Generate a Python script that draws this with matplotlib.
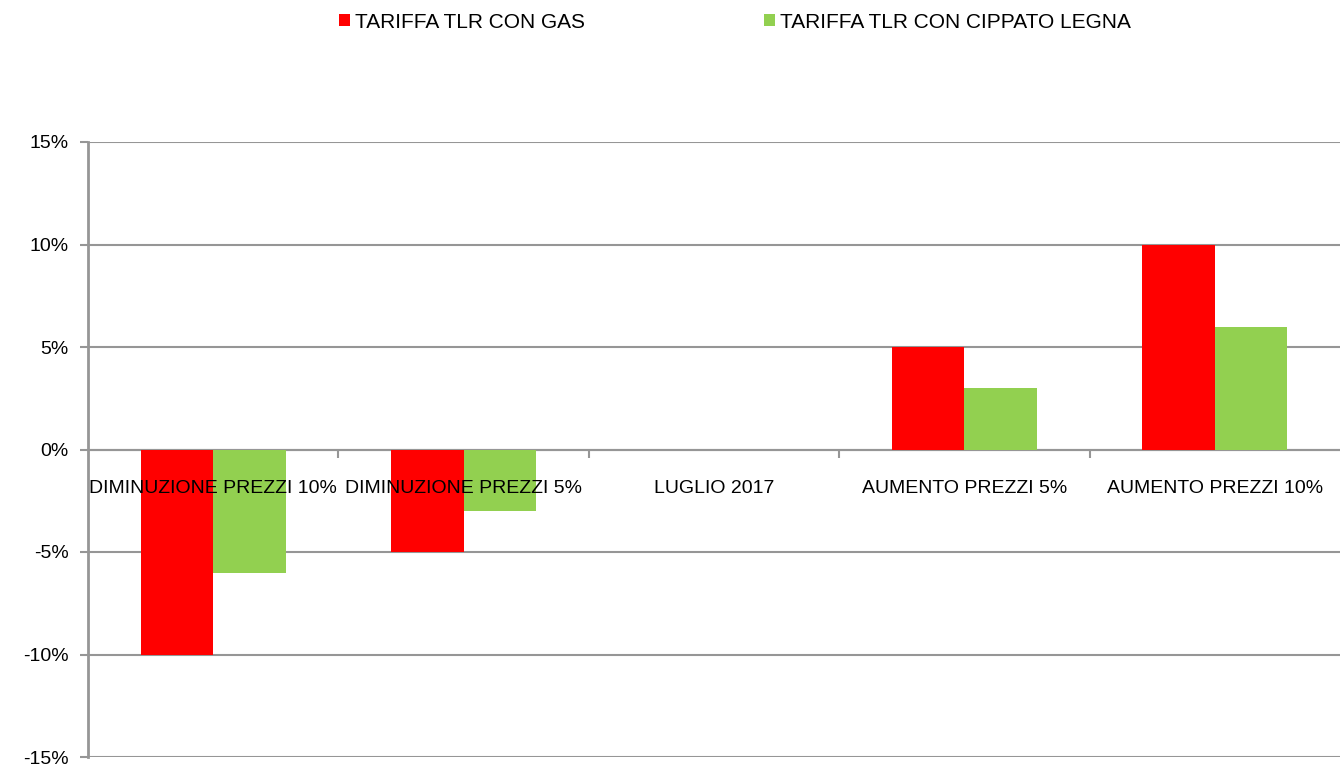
import numpy as np
import matplotlib.pyplot as plt
from matplotlib.ticker import FixedLocator, FuncFormatter

categories = ['DIMINUZIONE PREZZI 10%', 'DIMINUZIONE PREZZI 5%', 'LUGLIO 2017',
              'AUMENTO PREZZI 5%', 'AUMENTO PREZZI 10%']
gas = [-10, -5, 0, 5, 10]
cippato = [-6, -3, 0, 3, 6]
series_names = ['TARIFFA TLR CON GAS', 'TARIFFA TLR CON CIPPATO LEGNA']
yticks = [-15, -10, -5, 0, 5, 10, 15]

plt.rcParams['font.family'] = ['Liberation Sans', 'DejaVu Sans']
grey = '#969696'

fig = plt.figure(figsize=(13.4, 7.66), dpi=100)
ax = fig.add_axes([88 / 1340, 1 - 757 / 766, 1 - 88 / 1340, (757 - 142) / 766])

x = np.arange(len(categories))
w = 0.29
b1 = ax.bar(x - w / 2, gas, w, color='#FF0000', zorder=2, label=series_names[0])
b2 = ax.bar(x + w / 2, cippato, w, color='#92D050', zorder=2, label=series_names[1])

ax.set_xlim(-0.5, len(categories) - 0.5)
ax.set_ylim(-15, 15)
ax.set_yticks(yticks)
ax.yaxis.set_major_formatter(FuncFormatter(lambda v, p: '%d%%' % v))
ax.set_axisbelow(True)
ax.yaxis.grid(True, color=grey, linewidth=1.5)

# category axis sits at zero
ax.spines['bottom'].set_position(('data', 0))
ax.spines['bottom'].set_color(grey)
ax.spines['bottom'].set_linewidth(1.5)
ax.spines['bottom'].set_zorder(1.8)
ax.spines['left'].set_color(grey)
ax.spines['left'].set_linewidth(2)
ax.spines['top'].set_visible(False)
ax.spines['right'].set_visible(False)

ax.set_xticks(x)
ax.set_xticklabels(categories)
ax.xaxis.set_minor_locator(FixedLocator(x[:-1] + 0.5))
ax.tick_params(axis='x', which='major', length=0, pad=22, labelsize=14)
ax.tick_params(axis='x', which='minor', length=6, width=1.5, color=grey, direction='out')
ax.tick_params(axis='y', length=6, width=1.5, color=grey, pad=8, labelsize=14)
ax.xaxis.set_zorder(5)

fig.legend(handles=[b1, b2], labels=series_names, loc='center', ncol=2,
           bbox_to_anchor=(735 / 1340, 1 - 22 / 766), frameon=False, fontsize=15,
           handlelength=0.5, handleheight=0.5, handletextpad=0.25, columnspacing=8.6)

fig.savefig('out.png', dpi=100)
